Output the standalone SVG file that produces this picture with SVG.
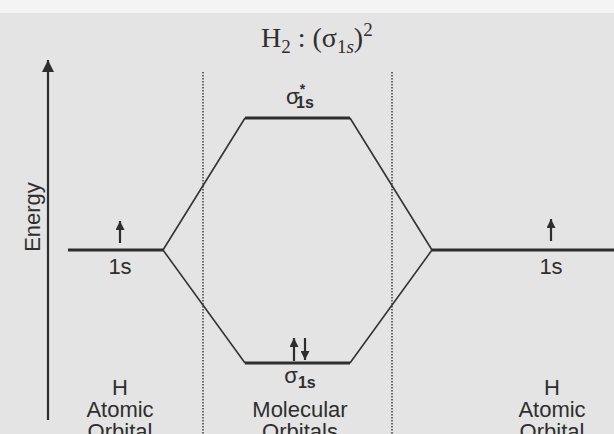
<svg xmlns="http://www.w3.org/2000/svg" width="614" height="434" viewBox="0 0 614 434">
<defs>
<marker id="ah" viewBox="0 0 10 10" refX="10" refY="5" markerWidth="11" markerHeight="9" markerUnits="userSpaceOnUse" orient="auto"><path d="M0,0 L10,5 L0,10 z" fill="#2e2e2e"/></marker>
<marker id="big" viewBox="0 0 10 10" refX="10" refY="5" markerWidth="18" markerHeight="12" markerUnits="userSpaceOnUse" orient="auto"><path d="M0,0 L10,5 L0,10 z" fill="#2e2e2e"/></marker>
</defs>
<style>
.lvl{stroke:#2e2e2e;stroke-width:2.8;fill:none}
.diag{stroke:#333;stroke-width:1.6;fill:none}
.dot{stroke:#333;stroke-width:1.4;stroke-dasharray:1.5 1.5;fill:none}
.lab{font-family:"Liberation Sans",Arial,sans-serif;font-size:22px;fill:#2e2e2e;text-anchor:middle}
.el{stroke:#2e2e2e;stroke-width:2.2;fill:none}
.ttl{font-family:"Liberation Serif","Times New Roman",serif;font-size:28px;fill:#2e2e2e}
</style>
<rect x="0" y="0" width="614" height="434" fill="#e4e4e4"/>
<rect x="0" y="0" width="614" height="13" fill="#f4f4f4"/>

<g id="title">
<text class="ttl" x="261" y="47">H<tspan font-size="19" dy="6">2</tspan><tspan dy="-6"> : (σ</tspan><tspan font-size="19" dy="6">1<tspan font-style="italic">s</tspan></tspan><tspan dy="-6">)</tspan><tspan font-size="19" dy="-11">2</tspan></text>
</g>

<g id="energy-axis">
<line x1="48" y1="420" x2="48" y2="60" stroke="#2e2e2e" stroke-width="2.2" marker-end="url(#big)"/>
<text class="lab" transform="translate(40,217) rotate(-90)" font-size="20">Energy</text>
</g>

<g id="connectors">
<line class="dot" x1="203" y1="72" x2="203" y2="434"/>
<line class="dot" x1="392" y1="72" x2="392" y2="434"/>
<path class="diag" d="M163,250 L245,118 M163,250 L245,363 M432,250 L350,118 M432,250 L350,363"/>
</g>

<g id="h-left">
<line class="lvl" x1="68" y1="250" x2="163" y2="250"/>
<line class="el" x1="120" y1="243" x2="120" y2="221" marker-end="url(#ah)"/>
<text class="lab" x="120" y="274">1s</text>
<text class="lab" x="120" y="395">H</text>
<text class="lab" x="120" y="417">Atomic</text>
<text class="lab" x="120" y="439">Orbital</text>
</g>

<g id="h-right">
<line class="lvl" x1="432" y1="250" x2="614" y2="250"/>
<line class="el" x1="551" y1="241" x2="551" y2="219" marker-end="url(#ah)"/>
<text class="lab" x="551" y="274">1s</text>
<text class="lab" x="552" y="395">H</text>
<text class="lab" x="552" y="417">Atomic</text>
<text class="lab" x="552" y="439">Orbital</text>
</g>

<g id="sigma-star">
<line class="lvl" x1="245" y1="118" x2="350" y2="118"/>
<text class="lab" x="300" y="104" font-size="23">σ<tspan font-size="14" font-weight="bold" dx="0" dy="-10">*</tspan><tspan font-size="16" font-weight="bold" dx="-9" dy="14">1s</tspan></text>
</g>

<g id="sigma">
<line class="lvl" x1="245" y1="363" x2="350" y2="363"/>
<line class="el" x1="294" y1="361" x2="294" y2="338" marker-end="url(#ah)"/>
<line class="el" x1="305" y1="338" x2="305" y2="360" marker-end="url(#ah)"/>
<text class="lab" x="300" y="383" font-size="23">σ<tspan font-size="16" font-weight="bold" dy="5">1s</tspan></text>
<text class="lab" x="300" y="417" font-size="23">Molecular</text>
<text class="lab" x="300" y="439">Orbitals</text>
</g>
</svg>
